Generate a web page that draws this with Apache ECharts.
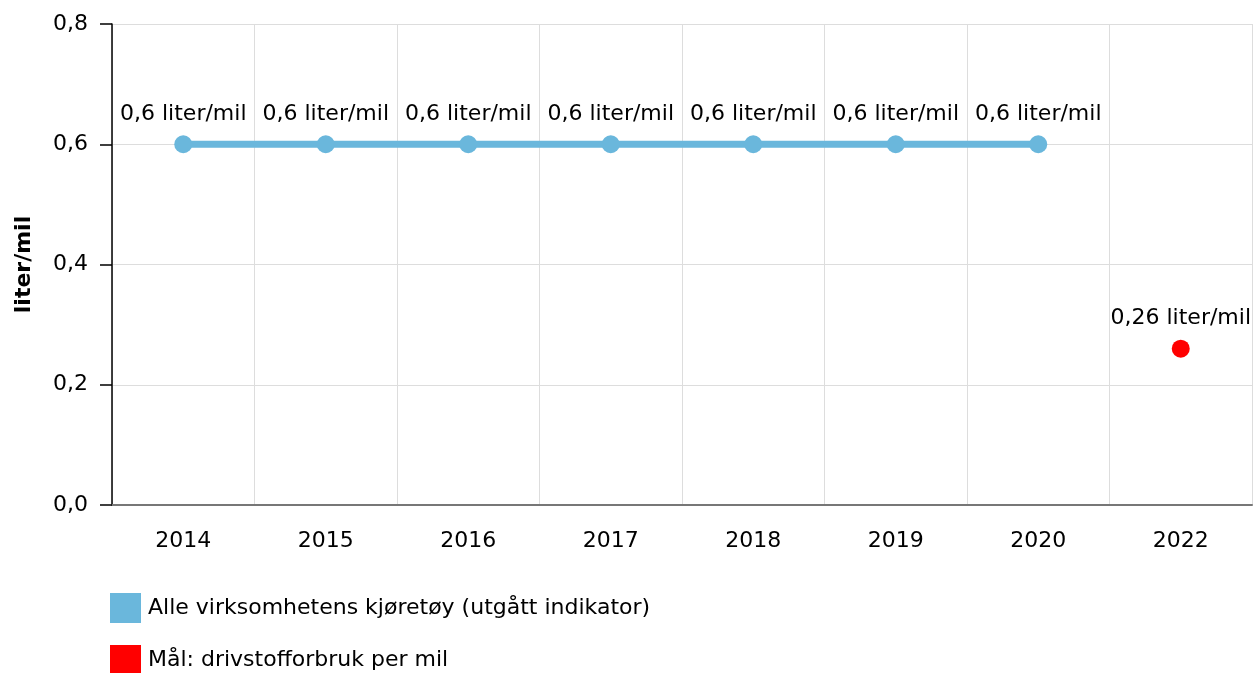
<!DOCTYPE html>
<html>
<head>
<meta charset="utf-8">
<script src="https://cdn.jsdelivr.net/npm/echarts@6/dist/echarts.min.js"></script>
<style>
  html, body { margin: 0; padding: 0; background: #fff; }
  #chart { width: 1254px; height: 673px; }
</style>
</head>
<body>
<div id="chart"></div>
<script>
const years = ['2014', '2015', '2016', '2017', '2018', '2019', '2020', '2022']
const allVehicles = [0.6, 0.6, 0.6, 0.6, 0.6, 0.6, 0.6, null]
const target = [null, null, null, null, null, null, null, 0.26]
const yTicks = [0, 0.2, 0.4, 0.6, 0.8]

const fontFamily = 'DejaVu Sans, Verdana, sans-serif'
const comma = (v) => String(v).replace('.', ',')

const chart = echarts.init(document.getElementById('chart'))

const option = {
  animation: false,
  textStyle: { fontFamily: fontFamily },
  grid: { left: 112, right: 2, top: 24, bottom: 168 },
  legend: {
    orient: 'vertical',
    left: 110,
    top: 593,
    padding: 0,
    height: 200,
    itemWidth: 31,
    itemHeight: 30,
    itemGap: 22,
    icon: 'rect',
    textStyle: { fontSize: 22, color: '#000', fontFamily: fontFamily, padding: [0, 0, 0, 2] },
    data: ['Alle virksomhetens kjøretøy (utgått indikator)', 'Mål: drivstofforbruk per mil']
  },
  xAxis: {
    type: 'category',
    data: years,
    boundaryGap: true,
    axisLine: { lineStyle: { color: '#777', width: 2 } },
    axisTick: { alignWithLabel: true, length: 8, lineStyle: { color: '#999' } },
    axisLabel: { fontSize: 22, color: '#000', margin: 25 },
    splitLine: { show: true, lineStyle: { color: '#ddd' } }
  },
  yAxis: {
    type: 'value',
    min: yTicks[0],
    max: yTicks[yTicks.length - 1],
    interval: 0.2,
    name: 'liter/mil',
    nameLocation: 'middle',
    nameGap: 77,
    nameTextStyle: { fontSize: 22, fontWeight: 'bold', color: '#000' },
    axisLine: { show: true, lineStyle: { color: '#000', width: 1.5 } },
    axisTick: { show: true, length: 12, lineStyle: { color: '#000', width: 1.5 } },
    axisLabel: {
      fontSize: 22,
      color: '#000',
      margin: 24,
      formatter: (v) => v.toFixed(1).replace('.', ',')
    },
    splitLine: { show: true, lineStyle: { color: '#ddd' } }
  },
  series: [
    {
      name: 'Alle virksomhetens kjøretøy (utgått indikator)',
      type: 'line',
      data: allVehicles,
      color: '#6ab7dc',
      symbol: 'circle',
      symbolSize: 18,
      lineStyle: { width: 7 },
      label: {
        show: true,
        position: 'top',
        distance: 10,
        fontSize: 22,
        color: '#000',
        formatter: (p) => comma(p.value) + ' liter/mil'
      }
    },
    {
      name: 'Mål: drivstofforbruk per mil',
      type: 'line',
      data: target,
      color: '#ff0000',
      symbol: 'circle',
      symbolSize: 18,
      showSymbol: true,
      lineStyle: { width: 0 },
      label: {
        show: true,
        position: 'top',
        distance: 10,
        fontSize: 22,
        color: '#000',
        formatter: (p) => comma(p.value) + ' liter/mil'
      }
    }
  ]
}

chart.setOption(option)
</script>
</body>
</html>
